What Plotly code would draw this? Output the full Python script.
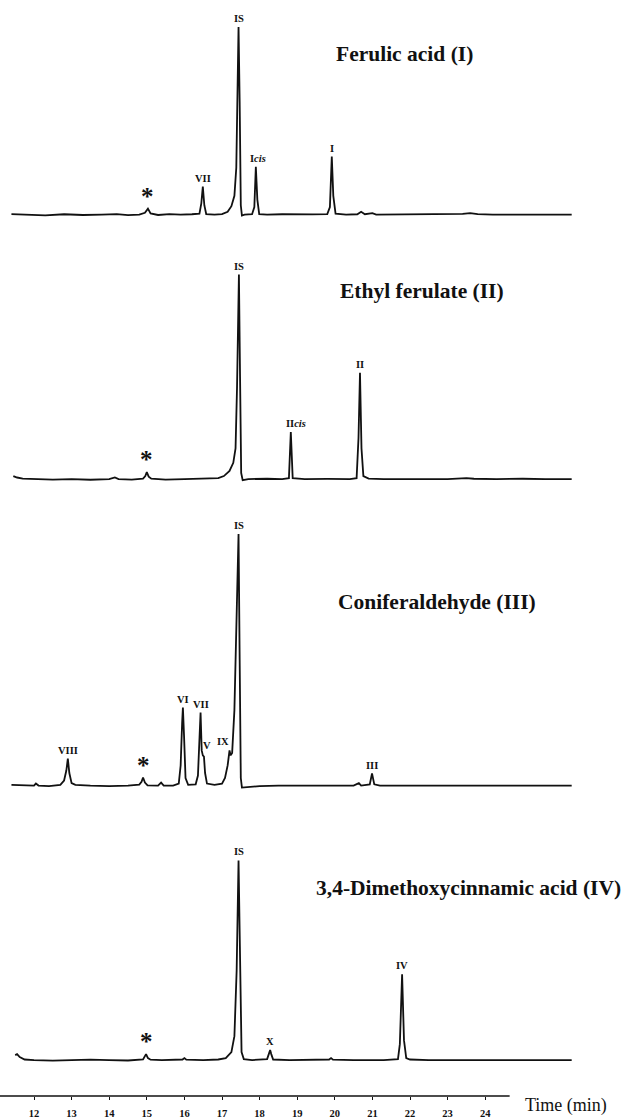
import plotly.graph_objects as go

W, H = 628, 1119
FONT = "Liberation Serif"

# ---------------- data (time in min, signal in % of IS peak) ----------------
p1_time = [11.40, 11.8, 12.3, 12.8, 13.3, 13.8, 14.2, 14.5, 14.8, 14.95, 15.03, 15.1, 15.3, 15.6, 15.9,
           16.2, 16.40, 16.45, 16.49, 16.53, 16.58, 16.8, 17.0, 17.15, 17.25, 17.33, 17.38, 17.42, 17.44,
           17.47, 17.50, 17.53, 17.6, 17.8, 17.86, 17.9, 17.94, 17.99, 18.2, 18.6, 19.0, 19.4, 19.8, 19.87,
           19.92, 19.96, 20.02, 20.3, 20.6, 20.7, 20.8, 21.0, 21.1, 21.5, 22.0, 22.5, 23.0, 23.4, 23.6,
           23.8, 24.2, 24.8, 25.4, 26.0, 26.3]
p1_signal = [0.3, 0.0, -0.4, 0.2, -0.2, 0.0, 0.3, -0.3, 0.0, 1.0, 3.2, 0.6, -0.2, 0.3, 0.0,
             0.2, 0.5, 6, 14.9, 5, 0.3, 0.0, 0.3, 1.5, 4.5, 10, 25, 75, 100,
             60, 5, -0.5, 0.0, 0.2, 4, 25.5, 8, 0.3, 0, 0.2, 0, 0.1, 0.3, 4,
             30.9, 10, 0.5, 0, 0.2, 1.5, 0.2, 0.8, 0, 0, 0.2, 0, 0.1, 0.4, 0.8,
             0.3, 0, 0.1, 0, 0, 0]

p2_time = [11.45, 11.55, 11.7, 12.0, 12.5, 13.0, 13.5, 14.0, 14.15, 14.25, 14.6, 14.9, 14.96, 15.0,
           15.05, 15.12, 15.5, 16.0, 16.4, 16.6, 16.9, 17.05, 17.2, 17.3, 17.36, 17.40, 17.43, 17.45,
           17.48, 17.51, 17.55, 17.7, 18.2, 18.6, 18.78, 18.83, 18.88, 19.2, 19.8, 20.4, 20.58, 20.63,
           20.67, 20.71, 20.76, 20.9, 21.3, 22.0, 22.5, 23.0, 23.5, 23.7, 24.3, 25.0, 25.6, 26.3]
p2_signal = [1.5, 0.8, 0.3, 0.0, -0.2, 0.0, -0.3, 0.0, 0.8, 0, -0.2, 0.3, 1.5, 3.4,
             1.2, 0.2, -0.2, 0, 0.1, 0.3, 0.5, 1.5, 4, 8, 15, 45, 90, 100,
             50, 3, -0.5, 0, 0.2, 0, 0.5, 23, 0.5, 0, 0.1, 0, 0.5, 20,
             52, 15, 1.5, 0.3, 0, 0.1, 0, 0, 0.5, 0.2, 0, 0.2, 0, 0]

p3_time = [11.40, 11.7, 12.0, 12.05, 12.12, 12.4, 12.7, 12.80, 12.86, 12.90, 12.94, 13.0, 13.1, 13.5,
           14.0, 14.5, 14.8, 14.86, 14.90, 14.95, 15.02, 15.3, 15.38, 15.45, 15.7, 15.85, 15.90, 15.94,
           15.96, 15.99, 16.03, 16.1, 16.3, 16.36, 16.40, 16.43, 16.46, 16.49, 16.52, 16.55, 16.60,
           16.8, 17.0, 17.08, 17.15, 17.20, 17.23, 17.27, 17.33, 17.39, 17.44, 17.47, 17.50, 17.53,
           17.7, 18.0, 18.5, 19.0, 19.5, 20.0, 20.5, 20.64, 20.7, 20.93, 20.99, 21.05, 21.2, 21.8,
           22.5, 23.2, 24.0, 25.0, 26.3]
p3_signal = [0.3, 0.0, 0.0, 0.8, 0, -0.2, 0.3, 2, 6, 10.7, 5, 1, 0.3, 0,
             -0.2, 0, 0.4, 1.5, 3.2, 1.2, 0.1, 0, 1.2, 0, 0, 0.8, 8, 25,
             31, 20, 3, 0.3, 0.5, 4, 20, 29, 14, 12, 11.5, 5, 0.8,
             0.3, 0.8, 3, 8, 14, 12, 13, 30, 70, 100, 50, 3, -0.8,
             -0.5, -0.2, 0, 0.1, 0, 0, 0, 1, 0, 0.5, 4.8, 0.5, 0, 0,
             0.1, 0, 0, 0, 0]

p4_time = [11.50, 11.55, 11.62, 11.75, 12.0, 12.5, 13.0, 13.5, 14.0, 14.5, 14.9, 14.94, 14.98, 15.03,
           15.1, 15.4, 15.95, 16.0, 16.05, 16.5, 16.9, 17.1, 17.25, 17.33, 17.39, 17.44, 17.48, 17.52,
           17.58, 17.8, 18.2, 18.25, 18.28, 18.31, 18.36, 18.8, 19.5, 19.85, 19.9, 19.95, 20.5, 21.3,
           21.68, 21.73, 21.79, 21.84, 21.90, 22.0, 22.5, 23.5, 24.5, 25.5, 26.3]
p4_signal = [2.5, 3.0, 1.5, 0.3, 0, -0.3, 0, 0.2, 0, -0.2, 0.3, 1.5, 3, 1,
             0.2, 0, 0.3, 1, 0.2, 0, 0.3, 1, 4, 12, 45, 100, 40, 4,
             0.5, 0, 0.5, 3, 5, 3, 0.3, 0, 0, 0.3, 1, 0.2, 0, 0,
             0.5, 8, 43, 10, 1, 0.3, 0, 0, 0, 0, 0]

# peak labels: text, time, height (% of IS)
p1_labels = ["IS", "VII", "I<i>cis</i>", "I", "*"]
p1_label_time = [17.44, 16.49, 17.97, 19.92, 15.03]
p1_label_height = [100, 14.9, 25.5, 30.9, 3.2]

p2_labels = ["IS", "II<i>cis</i>", "II", "*"]
p2_label_time = [17.45, 18.96, 20.67, 15.0]
p2_label_height = [100, 23, 52, 3.4]

p3_labels = ["IS", "VIII", "VI", "VII", "V", "IX", "III", "*"]
p3_label_time = [17.44, 12.90, 15.96, 16.45, 16.60, 17.03, 20.99, 14.90]
p3_label_height = [100, 10.7, 31, 29, 12.5, 14, 4.8, 3.2]

p4_labels = ["IS", "X", "IV", "*"]
p4_label_time = [17.44, 18.28, 21.79, 14.98]
p4_label_height = [100, 5, 43, 3]

panel_titles = ["Ferulic acid (I)", "Ethyl ferulate (II)", "Coniferaldehyde (III)",
                "3,4-Dimethoxycinnamic acid (IV)"]

tick_values = list(range(12, 25))
axis_title = "Time (min)"

# ---------------- layout geometry (pixels) ----------------
baseline_px = [215, 480, 787, 1062]
istop_px = [27, 275, 535, 862]
title_left_px = [334, 338, 336, 314]
title_mid_px = [54, 292, 603, 890]
px_per_min = 37.6
x_left = 12 - 34 / px_per_min
x_right = x_left + W / px_per_min
axis_y_px = 1098
axis_end_time = 24.65

panels = [
    (p1_time, p1_signal, p1_labels, p1_label_time, p1_label_height),
    (p2_time, p2_signal, p2_labels, p2_label_time, p2_label_height),
    (p3_time, p3_signal, p3_labels, p3_label_time, p3_label_height),
    (p4_time, p4_signal, p4_labels, p4_label_time, p4_label_height),
]

fig = go.Figure()
annotations = []
layout_axes = {}
for i, (t, s, labs, lt, lh) in enumerate(panels):
    n = i + 1
    yname = "y" if n == 1 else f"y{n}"
    axkey = "yaxis" if n == 1 else f"yaxis{n}"
    fig.add_trace(go.Scatter(x=t, y=s, mode="lines", yaxis=yname,
                             line=dict(color="#111111", width=1.8), hoverinfo="skip",
                             showlegend=False))
    pb, pt = baseline_px[i], istop_px[i]
    span = 100 * H / (pb - pt)
    r0 = -span * (1 - pb / H)
    ax = dict(range=[r0, r0 + span], domain=[0, 1], visible=False, fixedrange=True)
    if n > 1:
        ax["overlaying"] = "y"
    ax["anchor"] = "x"
    layout_axes[axkey] = ax
    for txt, tx, hy in zip(labs, lt, lh):
        star = txt == "*"
        annotations.append(dict(
            x=tx, y=hy, xref="x", yref=yname, text=txt, showarrow=False,
            xanchor="center", yanchor="bottom", yshift=(-3 if star else 1),
            font=dict(family=FONT, size=(25 if star else 10.5), color="#111111",
                      weight="bold"),
        ))
    annotations.append(dict(
        x=title_left_px[i] / W, y=1 - title_mid_px[i] / H, xref="paper", yref="paper",
        text=panel_titles[i], showarrow=False, xanchor="left", yanchor="middle",
        font=dict(family=FONT, size=21.5, color="#111111", weight="bold"),
    ))

annotations.append(dict(
    x=523 / W, y=1 - 1107 / H, xref="paper", yref="paper", text=axis_title,
    showarrow=False, xanchor="left", yanchor="middle",
    font=dict(family=FONT, size=18, color="#111111"),
))

fig.update_layout(
    width=W, height=H, margin=dict(l=0, r=0, t=0, b=0),
    paper_bgcolor="white", plot_bgcolor="white",
    xaxis=dict(range=[x_left, x_right], anchor="free", position=1 - axis_y_px / H,
               showgrid=False, zeroline=False, showline=False,
               ticks="outside", ticklen=3, tickwidth=1.2, tickcolor="#111111",
               tickvals=tick_values, ticktext=[str(v) for v in tick_values],
               ticklabelstandoff=4,
               tickfont=dict(family=FONT, size=10.5, color="#111111", weight="bold"),
               fixedrange=True),
    annotations=annotations,
    shapes=[dict(type="line", xref="x", yref="paper", x0=x_left, x1=axis_end_time,
                 y0=1 - axis_y_px / H, y1=1 - axis_y_px / H,
                 line=dict(color="#111111", width=1.4))],
    **layout_axes,
)

fig.write_html("out.html")
